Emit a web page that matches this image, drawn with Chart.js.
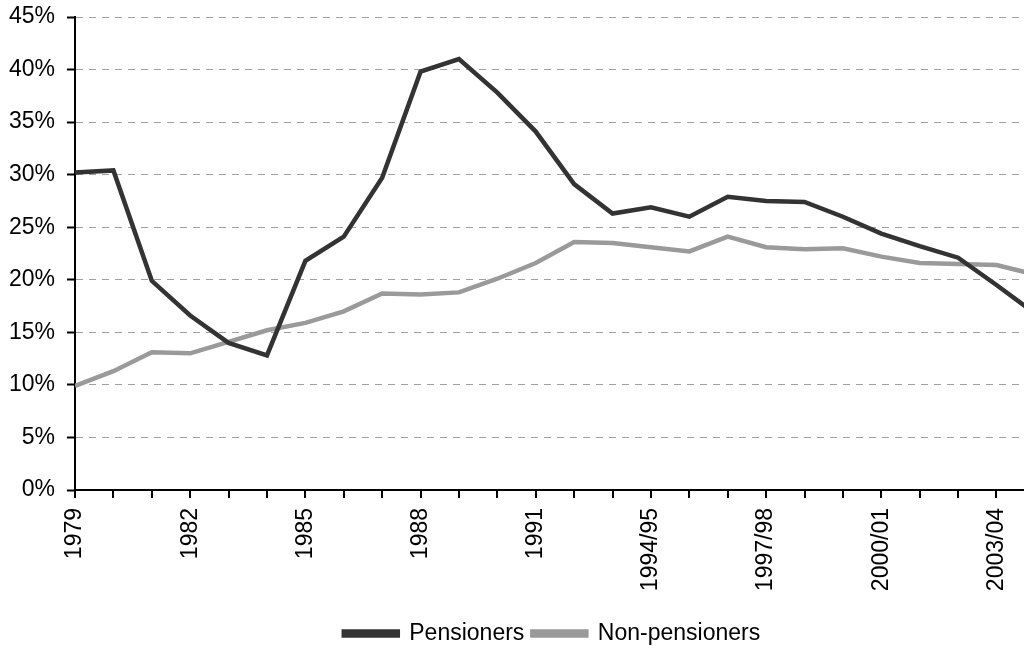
<!DOCTYPE html>
<html>
<head>
<meta charset="utf-8">
<script src="https://cdn.jsdelivr.net/npm/chart.js@4"></script>
<style>
  html, body { margin: 0; padding: 0; background: #fff; overflow: hidden; }
  #wrap { width: 1104px; height: 655px; }
</style>
</head>
<body>
<div id="wrap"><canvas id="povertyChart" width="1104" height="655"></canvas></div>
<script>
// Years (financial years from 1993/94)
const categories = ["1979", "1980", "1981", "1982", "1983", "1984", "1985", "1986", "1987", "1988",
    "1989", "1990", "1991", "1992", "1993/94", "1994/95", "1995/96", "1996/97", "1997/98",
    "1998/99", "1999/00", "2000/01", "2001/02", "2002/03", "2003/04", "2004/05"];

const pensioners = [30.2, 30.4, 19.9, 16.6, 14.0, 12.8, 21.8, 24.1, 29.7, 39.8,
    41.0, 37.8, 34.1, 29.1, 26.3, 26.9, 26.0, 27.9, 27.5, 27.4,
    26.0, 24.4, 23.2, 22.1, 19.5, 16.8];

const nonPensioners = [9.9, 11.3, 13.1, 13.0, 14.1, 15.2, 15.9, 17.0, 18.7, 18.6,
    18.8, 20.1, 21.6, 23.6, 23.5, 23.1, 22.7, 24.1, 23.1, 22.9,
    23.0, 22.2, 21.6, 21.5, 21.4, 20.5];

const yTicks = [0, 5, 10, 15, 20, 25, 30, 35, 40, 45];

const font = { family: "Arial, 'Liberation Sans', sans-serif", size: 23 };

function toPoints(values) {
    return values.map(function (v, i) { return { x: i, y: v }; });
}

document.addEventListener("DOMContentLoaded", function () {
    const ctx = document.getElementById("povertyChart");

    new Chart(ctx, {
        type: "line",
        data: {
            datasets: [
                {
                    label: "Pensioners",
                    data: toPoints(pensioners),
                    borderColor: "#333333",
                    backgroundColor: "#333333",
                    borderWidth: 4.5,
                    pointRadius: 0,
                    tension: 0,
                },
                {
                    label: "Non-pensioners",
                    data: toPoints(nonPensioners),
                    borderColor: "#9a9a9a",
                    backgroundColor: "#9a9a9a",
                    borderWidth: 4.5,
                    pointRadius: 0,
                    tension: 0,
                },
            ],
        },
        options: {
            responsive: false,
            animation: false,
            layout: { padding: { top: 17, right: 0, left: 0, bottom: 0 } },
            plugins: {
                tooltip: { enabled: false },
                legend: {
                    position: "bottom",
                    labels: {
                        color: "#000",
                        font: font,
                        boxWidth: 54,
                        boxHeight: 4,
                        padding: 8,
                    },
                },
            },
            scales: {
                x: {
                    type: "linear",
                    min: 0,
                    max: 26.8,
                    afterFit: function (scale) { scale.height = 124; },
                    afterBuildTicks: function (scale) {
                        scale.ticks = categories.map(function (c, i) { return { value: i }; });
                    },
                    ticks: {
                        color: "#000",
                        font: font,
                        minRotation: 90,
                        maxRotation: 90,
                        autoSkip: false,
                        padding: 10,
                        callback: function (value) {
                            return value % 3 === 0 ? categories[value] : "";
                        },
                    },
                    grid: {
                        drawOnChartArea: false,
                        drawTicks: true,
                        tickLength: 8,
                        color: "#000",
                        lineWidth: 2,
                    },
                    border: { display: true, color: "#000", width: 2 },
                },
                y: {
                    min: 0,
                    max: 45,
                    afterFit: function (scale) {
                        scale.width = 75;
                        scale.paddingTop = 0;
                        scale.paddingBottom = 0;
                    },
                    afterBuildTicks: function (scale) {
                        scale.ticks = yTicks.map(function (v) { return { value: v }; });
                    },
                    ticks: {
                        color: "#000",
                        font: font,
                        padding: 12,
                        callback: function (value) { return value + "%"; },
                    },
                    grid: {
                        color: "#a0a0a0",
                        lineWidth: 1,
                        tickColor: "#000",
                        tickLength: 8,
                        tickWidth: 2,
                        tickBorderDash: [],
                    },
                    border: { display: true, color: "#000", width: 2, dash: [7, 6] },
                },
            },
        },
    });
});
</script>
</body>
</html>
